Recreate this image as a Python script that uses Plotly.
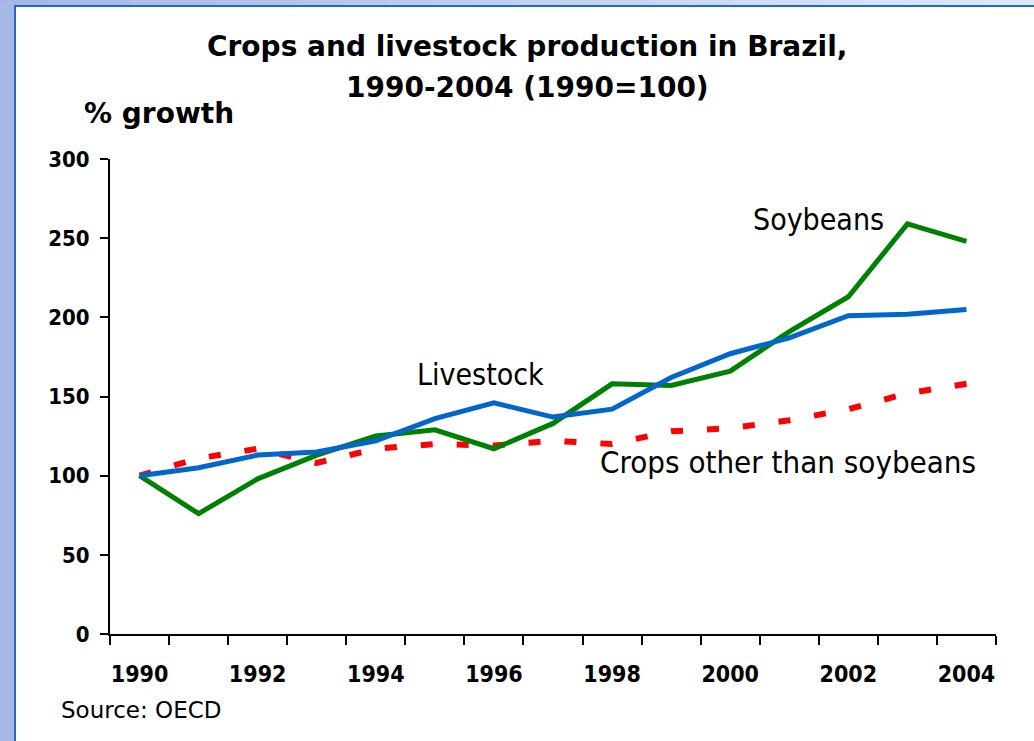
import plotly.graph_objects as go

# Production indices, 1990 = 100
years = list(range(1990, 2005))
soybeans = [100, 76, 98, 113, 125, 129, 117, 133, 158, 157, 166, 191, 213, 259, 248]
livestock = [100, 105, 113, 115, 122, 136, 146, 137, 142, 162, 177, 187, 201, 202, 205]
crops_other = [100, 111, 117, 108, 117, 120, 119, 122, 120, 128, 130, 135, 142, 152, 158]

x_tick_years = [y for y in years if y % 2 == 0]
x_tick_text = [str(y) for y in x_tick_years]
y_ticks = [0, 50, 100, 150, 200, 250, 300]

W, H = 1034, 741
L, R, T, B = 110, 38, 159, 107
PW, PH = W - L - R, H - T - B


def px(xp):
    return (xp - L) / PW


def py(yp):
    return (H - B - yp) / PH


FONT = "DejaVu Sans Condensed, DejaVu Sans, sans-serif"
FONT_WIDE = "DejaVu Sans, sans-serif"

fig = go.Figure()

fig.add_trace(go.Scatter(
    x=years, y=crops_other, mode="lines", name="Crops other than soybeans",
    line=dict(color="#FF0000", width=6, dash="12px,24px"),
))
fig.add_trace(go.Scatter(
    x=years, y=soybeans, mode="lines", name="Soybeans",
    line=dict(color="#008000", width=5),
))
fig.add_trace(go.Scatter(
    x=years, y=livestock, mode="lines", name="Livestock",
    line=dict(color="#0066CC", width=5),
))

# Frame: blue-grey band on the left/top, blue rule, white panel
shapes = []
n = 24
c0 = (168, 183, 229)
c1 = (224, 232, 248)
for i in range(n):
    t = i / (n - 1)
    col = "rgb(%d,%d,%d)" % tuple(int(a + (b - a) * t) for a, b in zip(c0, c1))
    shapes.append(dict(type="rect", xref="paper", yref="paper", layer="below",
                       x0=px(W * i / n), x1=px(W * (i + 1) / n + 1),
                       y0=py(6), y1=py(0), fillcolor=col, line=dict(width=0)))
shapes.append(dict(type="rect", xref="paper", yref="paper", layer="below",
                   x0=px(14), x1=px(W + 2), y0=py(H + 2), y1=py(5),
                   fillcolor="#1B6BD6", line=dict(width=0)))
shapes.append(dict(type="rect", xref="paper", yref="paper", layer="below",
                   x0=px(16), x1=px(W + 2), y0=py(H + 2), y1=py(7),
                   fillcolor="white", line=dict(width=0)))

annotations = [
    dict(text="<b>Crops and livestock production in Brazil,</b>", xref="paper", yref="paper",
         x=px(527), y=py(47), xanchor="center", yanchor="middle", showarrow=False,
         font=dict(family=FONT_WIDE, size=28, color="black")),
    dict(text="<b>1990-2004 (1990=100)</b>", xref="paper", yref="paper",
         x=px(527), y=py(88), xanchor="center", yanchor="middle", showarrow=False,
         font=dict(family=FONT_WIDE, size=28, color="black")),
    dict(text="<b>% growth</b>", xref="paper", yref="paper",
         x=px(82), y=py(114), xanchor="left", yanchor="middle", showarrow=False,
         font=dict(family=FONT_WIDE, size=28, color="black")),
    dict(text="Source: OECD", xref="paper", yref="paper",
         x=px(59), y=py(710), xanchor="left", yanchor="middle", showarrow=False,
         font=dict(family=FONT_WIDE, size=23, color="black")),
    dict(text="Soybeans", x=2001.49, y=261.5, xanchor="center", yanchor="middle",
         showarrow=False, font=dict(family=FONT, size=30, color="black")),
    dict(text="Livestock", x=1995.78, y=164.2, xanchor="center", yanchor="middle",
         showarrow=False, font=dict(family=FONT, size=30, color="black")),
    dict(text="Crops other than soybeans", x=2000.98, y=108.7, xanchor="center",
         yanchor="middle", showarrow=False, font=dict(family=FONT, size=31, color="black")),
]

fig.update_layout(
    width=W, height=H, autosize=False,
    margin=dict(l=L, r=R, t=T, b=B, pad=0),
    paper_bgcolor="#A9B9E6",
    plot_bgcolor="rgba(0,0,0,0)",
    showlegend=False,
    shapes=shapes,
    annotations=annotations,
    xaxis=dict(
        range=[1989.5, 2004.5], showgrid=False, zeroline=False,
        showline=True, linecolor="black", linewidth=2,
        tickmode="array", tickvals=x_tick_years, ticktext=x_tick_text,
        ticks="", ticklabelstandoff=18,
        tickfont=dict(family=FONT, size=23, color="black", weight="bold"),
        minor=dict(tickmode="linear", tick0=1989.5, dtick=1, ticks="outside",
                   ticklen=9, tickwidth=2, tickcolor="black", showgrid=False),
    ),
    yaxis=dict(
        range=[0, 300], showgrid=False, zeroline=False,
        showline=True, linecolor="black", linewidth=2,
        tickmode="array", tickvals=y_ticks,
        ticks="outside", ticklen=8, tickwidth=2, tickcolor="black",
        ticklabelstandoff=6,
        tickfont=dict(family=FONT, size=22, color="black", weight="bold"),
    ),
)

fig.write_html("out.html")
